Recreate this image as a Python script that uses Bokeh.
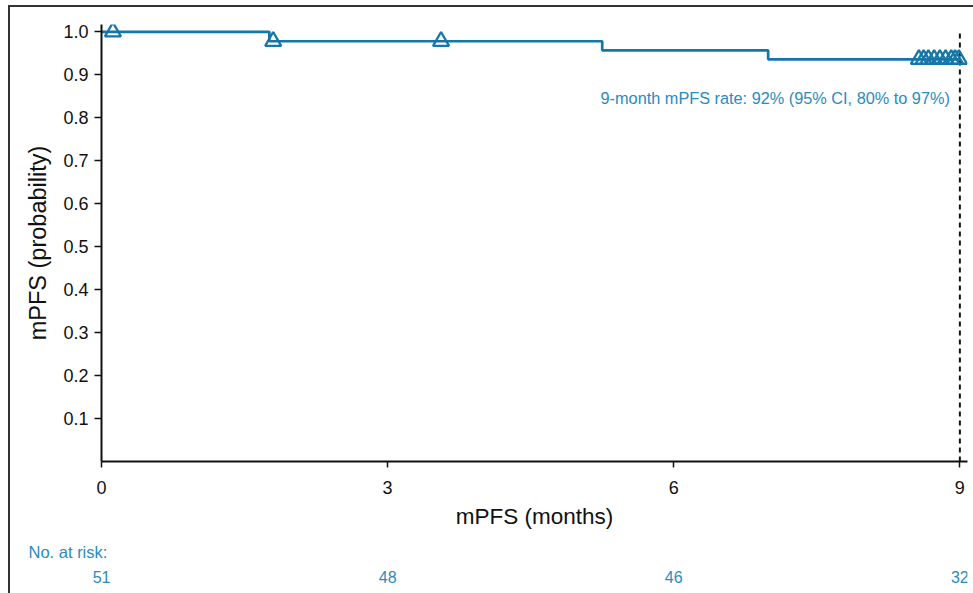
from bokeh.plotting import figure
from bokeh.layouts import column
from bokeh.models import ColumnDataSource, Label, FixedTicker, CustomJSTickFormatter
from bokeh.core.properties import value
from bokeh.embed import file_html
from bokeh.resources import INLINE

# --- data ---
step_times = [0.0, 1.76, 5.25, 6.99, 9.0]
step_surv = [1.0, 0.978, 0.957, 0.936, 0.936]
censor_times = [0.12, 1.80, 3.56, 8.57, 8.62, 8.67, 8.73, 8.79, 8.85, 8.91, 8.95, 8.99]
censor_surv = [1.0, 0.978, 0.978, 0.936, 0.936, 0.936, 0.936, 0.936, 0.936, 0.936, 0.936, 0.936]
risk_times = [0, 3, 6, 9]
risk_counts = ["51", "48", "46", "32"]
x_ticks = [0, 3, 6, 9]
y_ticks = [0.1, 0.2, 0.3, 0.4, 0.5, 0.6, 0.7, 0.8, 0.9, 1.0]
landmark_month = 9
annotation = "9-month mPFS rate: 92% (95% CI, 80% to 97%)"

LINE = "#1577a8"
TEXT = "#2a8bc0"
FONT = "Liberation Sans"

p = figure(width=963, height=528, output_backend="svg", toolbar_location=None,
           x_range=(0, 9.08), y_range=(0, 1.017),
           min_border_left=91, min_border_right=6, min_border_top=17, min_border_bottom=74)
p.outline_line_color = None
p.grid.visible = False

# axes
p.xaxis.ticker = FixedTicker(ticks=x_ticks)
p.yaxis.ticker = FixedTicker(ticks=y_ticks)
p.yaxis.formatter = CustomJSTickFormatter(code="return tick.toFixed(1);")
for ax in (p.xaxis[0], p.yaxis[0]):
    ax.axis_line_color = "#111"
    ax.axis_line_width = 2
    ax.major_tick_line_color = "#111"
    ax.major_tick_line_width = 1.5
    ax.minor_tick_line_color = None
    ax.major_tick_in = 0
    ax.major_label_text_font = FONT
    ax.major_label_text_font_size = "18px"
    ax.major_label_text_color = "#111"
    ax.axis_label_text_font = FONT
    ax.axis_label_text_font_style = "normal"
    ax.axis_label_text_font_size = "22.5px"
    ax.axis_label_text_color = "#111"
p.yaxis.axis_label_text_font_size = "23.5px"
p.xaxis.major_tick_out = 6
p.yaxis.major_tick_out = 7
p.xaxis.major_label_standoff = 13
p.yaxis.major_label_standoff = 6
p.xaxis.axis_label = "mPFS (months)"
p.yaxis.axis_label = "mPFS (probability)"
p.xaxis.axis_label_standoff = 7
p.yaxis.axis_label_standoff = 9

# 9-month dashed landmark line (from 0 up to probability 1.0)
p.segment(x0=[landmark_month], y0=[0], x1=[landmark_month], y1=[1.0],
          line_color="#111", line_dash="5 4", line_width=2)

# KM curve
src = ColumnDataSource(dict(t=step_times, s=step_surv))
p.step(x="t", y="s", source=src, mode="after", line_color=LINE, line_width=2.7)

# censor marks
csrc = ColumnDataSource(dict(t=censor_times, s=censor_surv))
p.scatter(x="t", y="s", source=csrc, marker="triangle", size=16,
          fill_color="white", fill_alpha=0, line_color=LINE, line_width=2.3)

# annotation
p.add_layout(Label(x=8.895, y=0.846, text=annotation, text_align="right",
                   text_baseline="middle", text_color=TEXT, text_font=FONT,
                   text_font_size="16.3px"))

# risk table (separate strip, same px-per-month mapping)
r = figure(width=963, height=58, output_backend="svg", toolbar_location=None,
           x_range=(-0.955, 9.08), y_range=(0, 1),
           min_border_left=0, min_border_right=6, min_border_top=0, min_border_bottom=0)
if "frame_align" in r.properties():
    r.frame_align = False
r.axis.visible = False
r.grid.visible = False
r.outline_line_color = None
r.text(x=[-0.766], y=[0.724], text=["No. at risk:"], text_align="left",
       text_baseline="middle", text_color=TEXT, text_font=value(FONT),
       text_font_size="16.5px")
rsrc = ColumnDataSource(dict(t=risk_times, n=risk_counts, y=[0.293] * len(risk_times)))
r.text(x="t", y="y", text="n", source=rsrc, text_align="center",
       text_baseline="middle", text_color=TEXT, text_font=value(FONT),
       text_font_size="16px")

layout = column(p, r, spacing=0, margin=(5, 0, 0, 8),
                styles={"border-left": "2px solid #333", "border-top": "2px solid #333"})

open("out.html", "w").write(file_html(layout, INLINE))
